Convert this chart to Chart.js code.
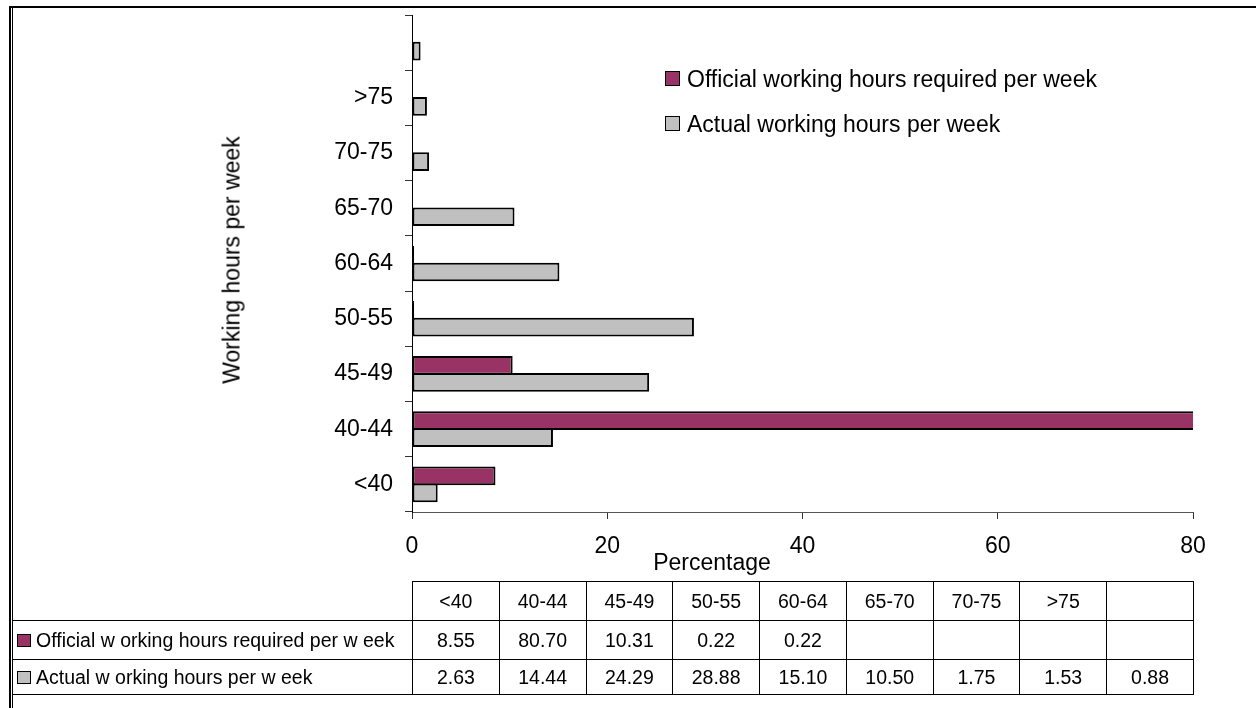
<!DOCTYPE html>
<html>
<head>
<meta charset="utf-8">
<script src="https://cdn.jsdelivr.net/npm/chart.js@4"></script>
<style>
  body { margin: 0; background: #fff; }
  #page { position: relative; width: 1256px; height: 708px; overflow: hidden; background: #fff;
          font-family: 'Liberation Sans', Arial, sans-serif; color: #000; }
  #frameTop { position: absolute; left: 9px; top: 6px; width: 1260px; height: 2px; background: #000; }
  #frameLeft { position: absolute; left: 9px; top: 6px; width: 2px; height: 710px; background: #000; }
  #frameLeft2 { position: absolute; left: 12px; top: 6px; width: 1px; height: 710px; background: #000; }
  #chartBox { position: absolute; left: 0; top: 0; width: 1256px; height: 575px; }
  .legend { position: absolute; left: 665px; font-size: 23px; white-space: nowrap; }
  .legend span.box, td span.box { display: inline-block; box-sizing: border-box; border: 1.5px solid #000; vertical-align: middle; }
  .legend span.box { width: 15px; height: 15px; margin-right: 7px; position: relative; top: -2px; }
  #yTitle { position: absolute; left: 232px; top: 260px; font-size: 23px; white-space: nowrap;
            transform: translate(-50%, -50%) rotate(-90deg); }
  #xTitle { position: absolute; left: 712px; top: 562px; font-size: 23px; white-space: nowrap;
            transform: translate(-50%, -50%); }
  #dataTable { position: absolute; left: 12px; top: 581px; border-collapse: collapse; table-layout: fixed;
               width: 1181px; font-size: 19.5px; }
  #dataTable td { border: 1px solid #000; padding: 0; text-align: center; overflow: hidden; }
  #dataTable td.name { text-align: left; padding-left: 4px; white-space: nowrap; }
  #dataTable td.blank { border-top: none; border-left: none; }
  td span.box { width: 14px; height: 13px; margin-right: 5px; position: relative; top: -1px; }
</style>
</head>
<body>
<div id="page">
  <div id="chartBox"><canvas id="hoursChart"></canvas></div>
  <div id="frameTop"></div>
  <div id="frameLeft"></div>
  <div id="frameLeft2"></div>
  <div id="yTitle">Working hours per week</div>
  <div id="xTitle">Percentage</div>
  <div id="legendBox"></div>
  <table id="dataTable"></table>
</div>
<script>
// weekly hour bands, as in the data table (bottom to top on the chart)
const hourBands = ["<40", "40-44", "45-49", "50-55", "60-64", "65-70", "70-75", ">75", ""];
const officialPct = [8.55, 80.70, 10.31, 0.22, 0.22, null, null, null, null];
const actualPct = [2.63, 14.44, 24.29, 28.88, 15.10, 10.50, 1.75, 1.53, 0.88];
const pctTicks = [0, 20, 40, 60, 80];

const officialName = "Official working hours required per week";
const actualName = "Actual working hours per week";
// the table shows the names with Excel's odd spacing
const officialTableName = "Official w orking hours required per w eek";
const actualTableName = "Actual w orking hours per w eek";

const purple = "#993366";
const grey = "#C0C0C0";

Chart.defaults.font.family = "'Liberation Sans', Arial, sans-serif";
Chart.defaults.color = "#000";

const ctx = document.getElementById("hoursChart").getContext("2d");

const hoursChart = new Chart(ctx, {
  type: "bar",
  data: {
    labels: hourBands,
    datasets: [
      {
        label: officialName,
        data: officialPct,
        backgroundColor: purple,
        borderColor: "#000",
        borderWidth: 2,
        borderSkipped: false,
      },
      {
        label: actualName,
        data: actualPct,
        backgroundColor: grey,
        borderColor: "#000",
        borderWidth: 2,
        borderSkipped: false,
      },
    ],
  },
  options: {
    indexAxis: "y",
    responsive: true,
    maintainAspectRatio: false,
    animation: false,
    categoryPercentage: 0.615,
    barPercentage: 1.1,
    layout: { padding: { top: 15, right: 63, left: 0, bottom: 13 } },
    plugins: {
      legend: { display: false },
      tooltip: { enabled: false },
    },
    scales: {
      x: {
        min: pctTicks[0],
        max: pctTicks[pctTicks.length - 1],
        afterBuildTicks: (scale) => {
          scale.ticks = pctTicks.map((v) => ({ value: v }));
        },
        ticks: { font: { size: 23 }, padding: 14, color: "#000" },
        grid: { drawOnChartArea: false, drawTicks: true, tickLength: 7, color: "#333", lineWidth: 1 },
        border: { display: true, color: "#555", width: 1 },
        afterFit: (scale) => {
          scale.height = 50;
          scale.paddingLeft = 0;
          scale.paddingRight = 0;
        },
      },
      y: {
        reverse: true,
        ticks: { font: { size: 23 }, padding: 12, color: "#000" },
        grid: { drawOnChartArea: false, drawTicks: true, tickLength: 7, color: "#333", lineWidth: 1, offset: true },
        border: { display: true, color: "#000", width: 1 },
        afterFit: (scale) => {
          scale.width = 412;
          scale.paddingTop = 0;
          scale.paddingBottom = 0;
        },
      },
    },
  },
});

// legend inside the plot
const legendBox = document.getElementById("legendBox");
[[officialName, purple, 80], [actualName, grey, 125]].forEach(([name, colour, cy]) => {
  const row = document.createElement("div");
  row.className = "legend";
  row.style.top = (cy - 14) + "px";
  row.innerHTML = '<span class="box" style="background:' + colour + '"></span>' + name;
  legendBox.appendChild(row);
});

// data table under the chart, columns lined up with the x axis
const table = document.getElementById("dataTable");
const colW = (1193 - 412) / hourBands.length;
const fmt = (v) => (v === null || v === undefined ? "" : v.toFixed(2));

let html = '<colgroup><col style="width:400px">';
hourBands.forEach(() => { html += '<col style="width:' + colW + 'px">'; });
html += "</colgroup>";
html += '<tr style="height:39px"><td class="blank"></td>';
hourBands.forEach((b) => { html += "<td>" + b.replace("<", "&lt;").replace(">", "&gt;") + "</td>"; });
html += "</tr>";
[[officialTableName, purple, officialPct, 39], [actualTableName, grey, actualPct, 35]].forEach(([name, colour, vals, h]) => {
  html += '<tr style="height:' + h + 'px"><td class="name"><span class="box" style="background:' + colour + '"></span>' + name + "</td>";
  vals.forEach((v) => { html += "<td>" + fmt(v) + "</td>"; });
  html += "</tr>";
});
table.innerHTML = html;
</script>
</body>
</html>
